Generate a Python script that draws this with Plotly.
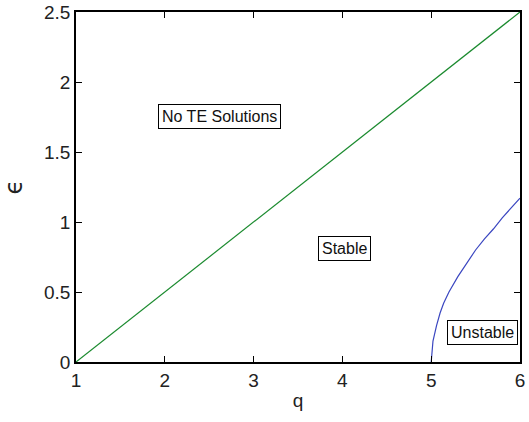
import plotly.graph_objects as go

# Data
line_q = [1, 6]
line_eps = [0, 2.5]

curve_q = [5.0, 5.02, 5.06, 5.1, 5.14, 5.2, 5.3, 5.4, 5.5, 5.6, 5.7, 5.8, 5.9, 6.0]
curve_eps = [0.0, 0.15, 0.26, 0.35, 0.42, 0.5, 0.61, 0.71, 0.8, 0.88, 0.95, 1.03, 1.1, 1.17]

labels = ["No TE Solutions", "Stable", "Unstable"]
label_q = [2.62, 4.02, 5.58]
label_eps = [1.757, 0.81, 0.21]

x_ticks = [1, 2, 3, 4, 5, 6]
y_ticks = [0, 0.5, 1, 1.5, 2, 2.5]
y_ticktext = ["0", "0.5", "1", "1.5", "2", "2.5"]

FONT = "Liberation Sans, Arial, Helvetica"

fig = go.Figure()
fig.add_trace(go.Scatter(x=line_q, y=line_eps, mode="lines",
                         line=dict(color="#1a8a2e", width=1.2), showlegend=False))
fig.add_trace(go.Scatter(x=curve_q, y=curve_eps, mode="lines",
                         line=dict(color="#3a46c0", width=1.2), showlegend=False))

for t, xq, ye in zip(labels, label_q, label_eps):
    fig.add_annotation(x=xq, y=ye, text=t, showarrow=False,
                       font=dict(family=FONT, size=16, color="#111"),
                       bordercolor="black", borderwidth=1, borderpad=3, bgcolor="white")

axis_common = dict(showgrid=False, zeroline=False, showline=True, linecolor="black",
                   linewidth=1.6, mirror="ticks", ticks="inside", ticklen=6,
                   tickcolor="black", automargin=False,
                   tickfont=dict(family=FONT, size=19, color="#222"))

fig.update_xaxes(range=[1, 6], tickvals=x_ticks,
                 title=dict(text="q", font=dict(family=FONT, size=19, color="#222"), standoff=4),
                 **axis_common)
fig.update_yaxes(range=[0, 2.5], tickvals=y_ticks, ticktext=y_ticktext,
                 title=dict(text="ϵ", font=dict(family="DejaVu Sans", size=24, color="#222"), standoff=16),
                 **axis_common)

fig.update_layout(width=529, height=422, plot_bgcolor="white", paper_bgcolor="white",
                  margin=dict(l=76, r=9, t=12, b=60))

fig.write_html("out.html", config={"displayModeBar": False},
               post_script="document.body.style.margin='0';document.body.style.overflow='hidden';")
